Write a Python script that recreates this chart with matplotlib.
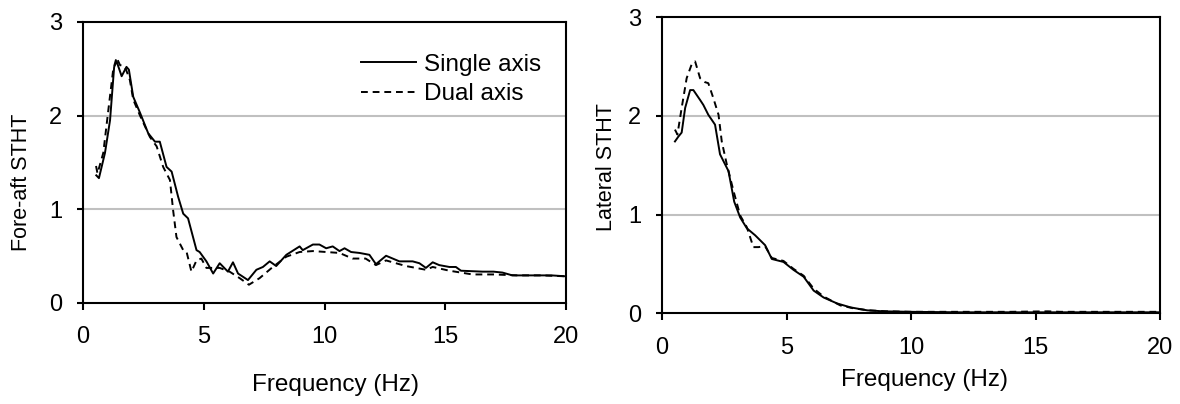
import numpy as np
import matplotlib
matplotlib.use("Agg")
import matplotlib.pyplot as plt

plt.rcParams['font.family'] = ['Liberation Sans', 'DejaVu Sans']

# fore-aft, single axis
fa_single_f = [0.55, 0.66, 0.91, 1.12, 1.29, 1.39, 1.6, 1.8, 1.9, 2.08, 2.36, 2.7, 2.98, 3.18,
               3.46, 3.67, 3.94, 4.15, 4.35, 4.7, 4.83, 5.11, 5.39, 5.66, 6.0, 6.21, 6.42, 6.83,
               7.18, 7.45, 7.73, 8.0, 8.42, 8.97, 9.1, 9.52, 9.79, 10.07, 10.34, 10.62, 10.83,
               11.1, 11.45, 11.86, 12.13, 12.55, 13.1, 13.65, 13.93, 14.2, 14.48, 14.75, 15.17,
               15.44, 15.65, 16.54, 17.0, 17.37, 17.78, 18.6, 19.4, 20.0]
fa_single_v = [1.36, 1.33, 1.6, 1.95, 2.52, 2.58, 2.42, 2.52, 2.49, 2.2, 2.03, 1.81, 1.72, 1.72,
               1.45, 1.40, 1.13, 0.95, 0.9, 0.56, 0.54, 0.44, 0.31, 0.42, 0.33, 0.43, 0.31, 0.24,
               0.35, 0.38, 0.44, 0.39, 0.51, 0.60, 0.56, 0.62, 0.62, 0.58, 0.60, 0.55, 0.58,
               0.54, 0.53, 0.51, 0.41, 0.50, 0.44, 0.44, 0.42, 0.37, 0.43, 0.40, 0.38,
               0.38, 0.34, 0.33, 0.33, 0.32, 0.29, 0.29, 0.29, 0.28]

# fore-aft, dual axis
fa_dual_f = [0.54, 0.6, 0.84, 1.05, 1.25, 1.39, 1.53, 1.74, 1.94, 2.08, 2.36, 2.77, 3.05, 3.32,
             3.6, 3.73, 3.87, 4.15, 4.29, 4.49, 4.7, 4.9, 5.11, 5.66, 6.07, 6.49, 6.87, 7.31,
             7.86, 8.42, 8.97, 9.52, 10.07, 10.62, 11.16, 11.7, 12.13, 12.55, 13.37, 14.2,
             14.48, 15.17, 16.13, 17.0, 18.0, 19.0, 20.0]
fa_dual_v = [1.46, 1.38, 1.6, 2.06, 2.49, 2.62, 2.54, 2.52, 2.38, 2.17, 2.0, 1.77, 1.67, 1.45,
             1.31, 0.99, 0.70, 0.56, 0.54, 0.33, 0.45, 0.47, 0.37, 0.37, 0.33, 0.26, 0.19, 0.26,
             0.38, 0.49, 0.54, 0.55, 0.54, 0.53, 0.47, 0.47, 0.40, 0.45, 0.39, 0.35,
             0.38, 0.34, 0.30, 0.30, 0.29, 0.29, 0.28]

# lateral, single axis
lat_single_f = [0.52, 0.66, 0.79, 0.93, 1.13, 1.26, 1.53, 1.66, 1.86, 2.13, 2.33, 2.47, 2.67,
                2.9, 3.14, 3.41, 3.74, 4.14, 4.41, 4.88, 5.28, 5.69, 6.09, 6.49, 7.03, 7.57,
                8.24, 8.9, 10, 12, 14, 16, 18, 20]
lat_single_v = [1.74, 1.79, 1.83, 2.08, 2.26, 2.26, 2.16, 2.11, 2.01, 1.91, 1.61, 1.54, 1.44,
                1.13, 0.97, 0.86, 0.79, 0.69, 0.55, 0.52, 0.44, 0.37, 0.23, 0.16, 0.10, 0.06,
                0.03, 0.02, 0.015, 0.01, 0.01, 0.01, 0.01, 0.01]

# lateral, dual axis
lat_dual_f = [0.52, 0.62, 0.79, 0.99, 1.19, 1.33, 1.53, 1.73, 1.86, 2.06, 2.27, 2.4, 2.6, 2.87,
              3.14, 3.41, 3.54, 3.67, 3.87, 4.14, 4.41, 4.88, 5.28, 5.69, 6.09, 6.49, 7.16,
              7.7, 8.3, 9, 10, 12, 14, 15.5, 16, 18, 20]
lat_dual_v = [1.86, 1.81, 2.08, 2.38, 2.52, 2.55, 2.38, 2.34, 2.33, 2.18, 2.01, 1.74, 1.51, 1.24,
              0.99, 0.87, 0.77, 0.67, 0.67, 0.68, 0.56, 0.53, 0.45, 0.38, 0.25, 0.17, 0.08,
              0.05, 0.03, 0.02, 0.015, 0.015, 0.015, 0.02, 0.015, 0.015, 0.015]

xticks = [0, 5, 10, 15, 20]
yticks = [0, 1, 2, 3]
FS = 17.5
YFS = 15.5

fig = plt.figure(figsize=(11.8, 4.04), dpi=100)
ax1 = fig.add_axes([83 / 1180, 1 - 302.5 / 404, 483 / 1180, 280.5 / 404])
ax2 = fig.add_axes([662 / 1180, 1 - 313.3 / 404, 498 / 1180, 296.3 / 404])


def style(ax):
    ax.set_xlim(0, 20)
    ax.set_ylim(0, 3)
    ax.set_xticks(xticks)
    ax.set_yticks(yticks)
    for y in [1, 2]:
        ax.axhline(y, color='#c0c0c0', lw=1.5, zorder=0)
    for s in ax.spines.values():
        s.set_linewidth(1.5)
    ax.tick_params(axis='x', direction='out', length=5, width=1.5, pad=12, labelsize=17)
    ax.tick_params(axis='y', direction='out', length=4, width=1.5, pad=11, labelsize=17)


style(ax1)
ax1.plot(fa_single_f, fa_single_v, color='black', lw=1.4, label='Single axis')
ax1.plot(fa_dual_f, fa_dual_v, color='black', lw=1.4, ls=(0, (3.5, 2.5)), label='Dual axis')
ax1.legend(loc='upper left', bbox_to_anchor=((349 - 83) / 483, 0.93), frameon=False,
           fontsize=FS, handlelength=2.25, handletextpad=0.33, borderpad=0, labelspacing=0.3)
ax1.text(0.522, -0.294, 'Frequency (Hz)', transform=ax1.transAxes, ha='center', va='center',
         fontsize=FS)
ax1.text(-0.128, 0.43, 'Fore-aft STHT', transform=ax1.transAxes, ha='center', va='center',
         rotation=90, fontsize=YFS)

style(ax2)
ax2.plot(lat_single_f, lat_single_v, color='black', lw=1.4)
ax2.plot(lat_dual_f, lat_dual_v, color='black', lw=1.4, ls=(0, (3.5, 2.5)))
ax2.text(0.528, -0.225, 'Frequency (Hz)', transform=ax2.transAxes, ha='center', va='center',
         fontsize=FS)
ax2.text(-0.112, 0.494, 'Lateral STHT', transform=ax2.transAxes, ha='center', va='center',
         rotation=90, fontsize=YFS)

fig.savefig('out.png', dpi=100)
